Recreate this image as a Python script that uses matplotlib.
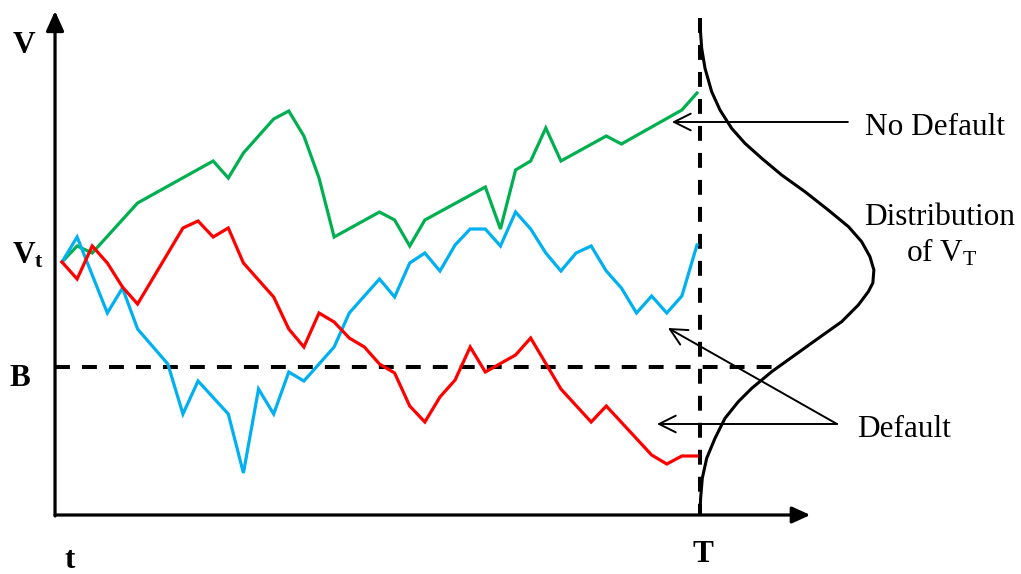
import matplotlib
matplotlib.use('Agg')
import matplotlib.pyplot as plt

plt.rcParams['font.family'] = ['Liberation Serif', 'DejaVu Serif']
plt.rcParams['mathtext.fontset'] = 'custom'
plt.rcParams['mathtext.rm'] = 'Liberation Serif'
plt.rcParams['mathtext.bf'] = 'Liberation Serif:bold'
plt.rcParams['mathtext.it'] = 'Liberation Serif:italic'

# ---- paths (time step, firm value) ----
green_t = [0, 1, 2, 5, 10, 11, 12, 14, 15, 16, 17, 18, 21, 22, 23, 24, 28, 29, 30, 31, 32, 33, 36, 37, 41, 42]
green_v = [25.3, 26.9, 26.2, 31.2, 35.4, 33.7, 36.2, 39.6, 40.4, 37.9, 33.7, 27.8, 30.3, 29.5, 26.9, 29.5,
           32.8, 28.6, 34.5, 35.4, 38.7, 35.4, 37.9, 37.1, 40.5, 42.2]

blue_t = [0, 1, 3, 4, 5, 7, 8, 9, 11, 12, 13, 14, 15, 16, 18, 19, 21, 22, 23, 24, 25, 26, 27, 28, 29, 30,
          31, 32, 33, 34, 35, 36, 37, 38, 39, 40, 41, 42]
blue_v = [25.3, 27.8, 20.2, 22.7, 18.6, 15.1, 10.1, 13.4, 10.1, 4.2, 12.6, 10.1, 14.3, 13.4, 16.8, 20.2,
          23.6, 21.8, 25.2, 26.2, 24.4, 27.0, 28.6, 28.6, 26.9, 30.3, 28.6, 26.2, 24.4, 26.2, 26.9, 24.4,
          22.7, 20.2, 21.9, 20.2, 21.9, 27.0]

red_t = [0, 1, 2, 3, 4, 5, 8, 9, 10, 11, 12, 14, 15, 16, 17, 18, 19, 20, 21, 22, 23, 24, 25, 26, 27, 28,
         30, 31, 33, 35, 36, 39, 40, 41, 42]
red_v = [25.3, 23.6, 26.9, 25.2, 22.8, 21.1, 28.7, 29.4, 27.8, 28.7, 25.2, 21.8, 18.6, 16.8, 20.2, 19.3,
         17.7, 16.8, 15.1, 14.2, 10.9, 9.3, 11.8, 13.5, 16.8, 14.3, 16.0, 17.7, 12.6, 9.3, 10.9, 6.0, 5.1,
         5.9, 5.9]

# distribution of V_T drawn sideways at T (horizontal position, value)
dist_t = [42.20, 42.31, 42.53, 42.97, 43.52, 44.29, 45.17, 46.28, 47.60, 49.14, 50.68, 52.02, 52.89,
          53.44, 53.70, 53.63, 53.33, 52.67, 51.57, 50.02, 48.48, 46.94, 45.62, 44.73, 43.85, 43.19,
          42.64, 42.35, 42.24, 42.20]
dist_v = [49.0, 46.67, 44.67, 42.33, 40.5, 38.67, 37.17, 35.67, 34.0, 32.33, 30.5, 28.83, 27.33,
          25.83, 24.5, 23.2, 22.33, 21.0, 19.33, 17.67, 16.0, 14.33, 12.67, 11.33, 9.67, 7.67,
          5.67, 3.67, 1.67, 0.17]

T = 42.2
B = 14.85
t0 = -0.46

fig = plt.figure(figsize=(10.21, 5.74), dpi=100)
ax = fig.add_axes([0, 0, 1, 1])
ax.set_xlim(-4.10, 63.43)
ax.set_ylim(-5.9, 51.5)
ax.axis('off')

# axes with arrows
ax.annotate('', xy=(49.5, 0), xytext=(t0, 0),
            arrowprops=dict(arrowstyle='-|>,head_length=0.55,head_width=0.25', lw=2.3,
                            color='black', shrinkA=0, shrinkB=0, mutation_scale=20))
ax.annotate('', xy=(t0, 50.4), xytext=(t0, -0.1),
            arrowprops=dict(arrowstyle='-|>,head_length=0.6,head_width=0.27', lw=2.3,
                            color='black', shrinkA=0, shrinkB=0, mutation_scale=20))

# barrier and maturity
ax.plot([t0, 47.0], [B, B], color='black', lw=2.9, linestyle=(0, (3.7, 3.0)))
ax.plot([T, T], [49.7, 0], color='black', lw=2.9, linestyle=(0, (3.7, 3.0)))

ax.plot(green_t, green_v, color='#00B050', lw=2.3, solid_joinstyle='miter')
ax.plot(blue_t, blue_v, color='#00B0F0', lw=2.3, solid_joinstyle='miter')
ax.plot(red_t, red_v, color='#FF0000', lw=2.3, solid_joinstyle='miter')

ax.plot(dist_t, dist_v, color='black', lw=2.2, solid_joinstyle='round')

# annotation arrows
arr = dict(arrowstyle='->,head_length=0.6,head_width=0.3', lw=1.4, color='black',
           shrinkA=0, shrinkB=0, mutation_scale=20)
ax.annotate('', xy=(40.34, 39.3), xytext=(51.98, 39.3), arrowprops=arr)
ax.annotate('', xy=(39.35, 9.1), xytext=(51.26, 9.1), arrowprops=arr)
ax.annotate('', xy=(40.08, 18.7), xytext=(51.26, 9.1), arrowprops=arr)

# labels
fs = 22.5
ax.text(-2.51, 46.2, 'V', fontsize=fs, fontweight='bold', ha='center', va='baseline')
ax.text(-3.31, 25.15, r'$\mathbf{V_t}$', fontsize=fs, ha='left', va='baseline')
ax.text(-2.78, 12.9, 'B', fontsize=fs, fontweight='bold', ha='center', va='baseline')
ax.text(0.53, -5.35, 't', fontsize=fs, fontweight='bold', ha='center', va='baseline')
ax.text(42.39, -4.7, 'T', fontsize=fs, fontweight='bold', ha='center', va='baseline')

ax.text(53.11, 38.0, 'No Default', fontsize=fs, ha='left', va='baseline')
ax.text(58.07, 29.0, 'Distribution', fontsize=fs, ha='center', va='baseline')
ax.text(58.2, 25.3, r'of $\mathrm{V_T}$', fontsize=fs, ha='center', va='baseline')
ax.text(52.58, 7.8, 'Default', fontsize=fs, ha='left', va='baseline')

fig.savefig('out.png', dpi=100)
